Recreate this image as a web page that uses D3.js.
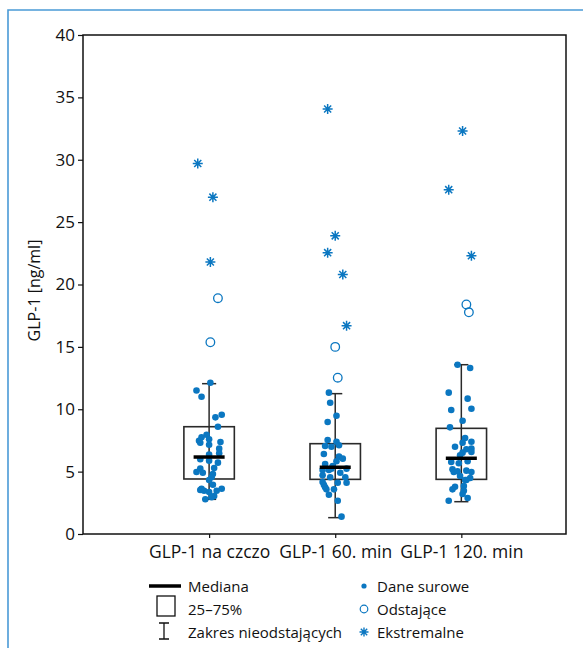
<!DOCTYPE html>
<html>
<head>
<meta charset="utf-8">
<script src="https://cdn.jsdelivr.net/npm/d3@7"></script>
<style>
  body { margin: 0; background: #fff; }
  text { font-family: 'Open Sans', 'Noto Sans', sans-serif; fill: #111; }
</style>
</head>
<body>
<svg id="chart"></svg>
<script>
// categories and box statistics (ng/ml)
const categories = ['GLP-1 na czczo', 'GLP-1 60. min', 'GLP-1 120. min'];
const q1 = [4.41, 4.38, 4.38];
const median = [6.17, 5.35, 6.07];
const q3 = [8.6, 7.24, 8.47];
const whiskerLow = [2.78, 1.31, 2.59];
const whiskerHigh = [12.05, 11.25, 13.57];

// raw points; jitter is in hundredths of a category step
const rawValues = [
  [12.13, 11.5, 11.0, 9.56, 9.35, 8.6, 7.96, 7.75, 7.48, 7.32, 7.59, 7.16, 7.37, 6.84, 6.47, 6.36, 5.99, 5.88,
    5.72, 5.29, 5.24, 4.97, 4.91, 4.81, 4.55, 4.33, 3.95, 3.63, 3.53, 3.47, 3.63, 3.47, 3.37, 3.05, 2.94, 2.78],
  [11.33, 10.52, 9.48, 8.98, 7.54, 7.4, 7.05, 7.0, 7.11, 6.41, 6.2, 6.04, 5.83, 5.61, 5.45, 5.24, 5.24, 5.13,
    5.13, 4.91, 4.7, 4.55, 4.55, 4.17, 3.95, 3.74, 4.11, 4.11, 3.58, 3.58, 3.15, 2.67, 1.39],
  [13.57, 13.31, 11.33, 10.85, 9.94, 10.04, 9.08, 8.55, 7.7, 7.32, 7.4, 7.0, 6.84, 6.57, 6.79, 6.52, 6.31, 5.77,
    5.83, 5.67, 5.19, 4.97, 5.03, 5.08, 4.97, 4.65, 4.49, 4.33, 4.33, 3.79, 3.58, 3.85, 3.47, 3.21, 2.89, 2.67],
];
const rawJitter = [
  [1, -10, -6, 10, 5, 7, -2, -6, -8, -7, 0, 0, 9, 8, 8, 0, -7, 0, 7, 4, -7, -10, -5, 3, 2, 0, 3, -6, -7, -4, 10, 6, 0, 4, 2, -3],
  [-5, -4, 1, -6, -6, 1, -8, -3, 3, -9, 3, 6, 1, -8, -2, -3, 9, -10, -5, 4, -10, -4, 8, -10, -9, -8, 9, 2, -7, -1, -5, 2, 5],
  [-3, 7, -10, 5, -8, 8, 1, -9, 3, 1, 8, -5, 8, 8, 4, 1, -1, -8, 5, -2, -7, -6, -3, 4, 8, -1, 7, 4, 3, -5, -7, 2, 2, 1, 5, -10],
];
const outlierValues = [[18.9, 15.37], [15.0, 12.53], [18.4, 17.77]];
const outlierJitter = [[7, 1], [0, 2], [4, 6]];
const extremeValues = [[29.7, 27.0, 21.8], [34.07, 23.9, 22.55, 20.8, 16.7], [32.3, 27.6, 22.3]];
const extremeJitter = [[-9, 3, 1], [-6, 0, -6, 6, 9], [1, -10, 8]];

const yTicks = [0, 5, 10, 15, 20, 25, 30, 35, 40];
const legendLeft = ['Mediana', '25–75%', 'Zakres nieodstających'];
const legendRight = ['Dane surowe', 'Odstające', 'Ekstremalne'];

const width = 583;
const height = 648;
const blue = '#0b77c1';
const plot = { left: 83, right: 566, top: 35, bottom: 534 };

const svg = d3.select('#chart').attr('width', width).attr('height', height);

// clipped figure frame
svg.append('path')
  .attr('d', `M8,${height}V10H${width}`)
  .attr('fill', 'none')
  .attr('stroke', '#4a9ad6')
  .attr('stroke-width', 1.6);

const x = d3.scaleLinear().domain([0, 3.83]).range([plot.left, plot.right]);
const y = d3.scaleLinear().domain([0, 40]).range([plot.bottom, plot.top]);

const yAxis = svg.append('g')
  .attr('transform', `translate(${plot.left},0)`)
  .call(d3.axisLeft(y).tickValues(yTicks).tickSize(5).tickPadding(3));
yAxis.select('.domain').remove();
yAxis.selectAll('line').attr('stroke', '#111').attr('stroke-width', 1.2);
yAxis.selectAll('text').attr('font-size', '17px').attr('font-family', "'Open Sans', sans-serif");

const xAxis = svg.append('g')
  .attr('transform', `translate(0,${plot.bottom})`)
  .call(d3.axisBottom(x).tickValues([1, 2, 3]).tickSize(4).tickPadding(8)
    .tickFormat(d => categories[d - 1]));
xAxis.select('.domain').remove();
xAxis.selectAll('line').attr('stroke', '#111').attr('stroke-width', 1.2);
xAxis.selectAll('text').attr('font-size', '17.5px').attr('font-family', "'Open Sans', sans-serif");

svg.append('rect')
  .attr('x', plot.left)
  .attr('y', plot.top)
  .attr('width', plot.right - plot.left)
  .attr('height', plot.bottom - plot.top)
  .attr('fill', 'none')
  .attr('stroke', '#111')
  .attr('stroke-width', 1.5);

svg.append('text')
  .attr('transform', `translate(40,${(plot.top + plot.bottom) / 2 + 6}) rotate(-90)`)
  .attr('text-anchor', 'middle')
  .attr('font-size', '16px')
  .text('GLP-1 [ng/ml]');

const boxHalf = 0.2;
const medianHalf = 0.123;
const capHalf = 0.056;
const gBoxes = svg.append('g');
const gPoints = svg.append('g');

function asterisk(r) {
  const d = r * Math.SQRT1_2;
  return `M0,${-r}V${r}M${-r},0H${r}M${-d},${-d}L${d},${d}M${-d},${d}L${d},${-d}`;
}

categories.forEach((cat, i) => {
  const c = i + 1;
  const g = gBoxes.append('g').attr('stroke', '#2a2a2a').attr('fill', 'none');

  // whisker
  g.append('line')
    .attr('x1', x(c)).attr('x2', x(c))
    .attr('y1', y(whiskerLow[i])).attr('y2', y(whiskerHigh[i]))
    .attr('stroke-width', 1.5);
  [whiskerLow[i], whiskerHigh[i]].forEach(v => {
    g.append('line')
      .attr('x1', x(c - capHalf)).attr('x2', x(c + capHalf))
      .attr('y1', y(v)).attr('y2', y(v))
      .attr('stroke-width', 1.5);
  });
  // box
  g.append('rect')
    .attr('x', x(c - boxHalf))
    .attr('y', y(q3[i]))
    .attr('width', x(c + boxHalf) - x(c - boxHalf))
    .attr('height', y(q1[i]) - y(q3[i]))
    .attr('stroke-width', 1.6);

  // raw dots
  gPoints.selectAll(null)
    .data(rawValues[i])
    .enter()
    .append('circle')
    .attr('cx', (d, k) => x(c + rawJitter[i][k] / 100))
    .attr('cy', d => y(d))
    .attr('r', 3.3)
    .attr('fill', blue);

  // median on top of dots
  gPoints.append('line')
    .attr('x1', x(c - medianHalf)).attr('x2', x(c + medianHalf))
    .attr('y1', y(median[i])).attr('y2', y(median[i]))
    .attr('stroke', '#000')
    .attr('stroke-width', 3.5);

  gPoints.selectAll(null)
    .data(outlierValues[i])
    .enter()
    .append('circle')
    .attr('cx', (d, k) => x(c + outlierJitter[i][k] / 100))
    .attr('cy', d => y(d))
    .attr('r', 4.3)
    .attr('fill', 'none')
    .attr('stroke', blue)
    .attr('stroke-width', 1.3);

  gPoints.selectAll(null)
    .data(extremeValues[i])
    .enter()
    .append('path')
    .attr('transform', (d, k) => `translate(${x(c + extremeJitter[i][k] / 100)},${y(d)})`)
    .attr('d', asterisk(5))
    .attr('fill', 'none')
    .attr('stroke', blue)
    .attr('stroke-width', 1.5);
});

// Legend
const legend = svg.append('g').attr('font-size', '15px');
const rowY = [586, 609, 632];

legend.append('line')
  .attr('x1', 149).attr('x2', 181)
  .attr('y1', rowY[0]).attr('y2', rowY[0])
  .attr('stroke', '#000').attr('stroke-width', 3.5);
legend.append('rect')
  .attr('x', 157).attr('y', rowY[1] - 13)
  .attr('width', 18).attr('height', 20)
  .attr('fill', 'none').attr('stroke', '#111').attr('stroke-width', 1.3);
legend.append('path')
  .attr('d', `M164,${rowY[2] - 9}V${rowY[2] + 7}M159,${rowY[2] - 9}H169M159,${rowY[2] + 7}H169`)
  .attr('fill', 'none').attr('stroke', '#111').attr('stroke-width', 1.3);

legend.selectAll(null)
  .data(legendLeft)
  .enter()
  .append('text')
  .attr('x', 188)
  .attr('y', (d, i) => rowY[i] + 6)
  .text(d => d);

legend.append('circle')
  .attr('cx', 364).attr('cy', rowY[0]).attr('r', 2.6).attr('fill', blue);
legend.append('circle')
  .attr('cx', 364).attr('cy', rowY[1]).attr('r', 3.8)
  .attr('fill', 'none').attr('stroke', blue).attr('stroke-width', 1.2);
legend.append('path')
  .attr('transform', `translate(364,${rowY[2]})`)
  .attr('d', asterisk(4.5))
  .attr('fill', 'none').attr('stroke', blue).attr('stroke-width', 1.4);

legend.selectAll(null)
  .data(legendRight)
  .enter()
  .append('text')
  .attr('x', 377)
  .attr('y', (d, i) => rowY[i] + 6)
  .text(d => d);
</script>
</body>
</html>
